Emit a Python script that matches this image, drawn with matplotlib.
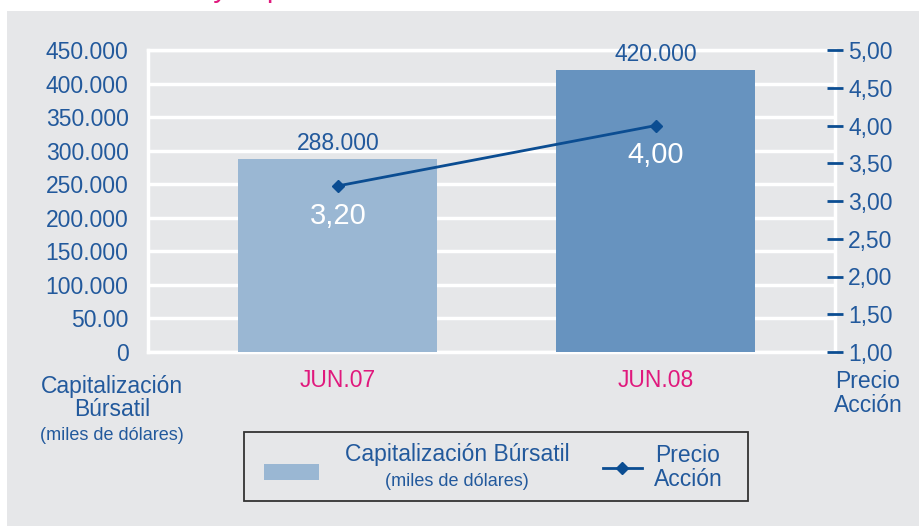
import matplotlib
matplotlib.use("Agg")
import matplotlib.pyplot as plt
from matplotlib.patches import Rectangle
from matplotlib.lines import Line2D

plt.rcParams['font.family'] = ['Liberation Sans', 'DejaVu Sans']

# data
categories = ["JUN.07", "JUN.08"]
capitalizacion = [288000, 420000]      # miles de dólares
precio_accion = [3.20, 4.00]
left_ticks = [0, 50000, 100000, 150000, 200000, 250000, 300000, 350000, 400000, 450000]
left_tick_labels = ["0", "50.00", "100.000", "150.000", "200.000", "250.000",
                    "300.000", "350.000", "400.000", "450.000"]
right_ticks = [1.0, 1.5, 2.0, 2.5, 3.0, 3.5, 4.0, 4.5, 5.0]

BG = '#e6e7e9'
BLUE_TXT = '#22599c'
LINE = '#0b4d92'
MAGENTA = '#e0197d'
BAR_COLORS = ['#9ab7d3', '#6793bf']
FS = 16.5

W, H = 919, 526


def px(x, y):
    return x / W, 1 - y / H


fig = plt.figure(figsize=(W / 100, H / 100), dpi=100, facecolor='white')
fig.patches.append(Rectangle((7 / W, 0), 1, 1 - 11 / H, transform=fig.transFigure,
                             facecolor=BG, edgecolor='none', zorder=-5))

# title, cut by the top edge of the image as in the original
fig.text(37 / W, 1 + 3 / H, "Valor bursátil y el precio de la acción", color=MAGENTA,
         fontsize=21, ha='left', va='baseline')

ax = fig.add_axes([148 / W, 1 - 352 / H, (835 - 148) / W, (352 - 50) / H])
ax.set_zorder(1)
ax.set_facecolor('none')
x = [0, 1]
ax.bar(x, capitalizacion, width=0.626, color=BAR_COLORS, zorder=2)
ax.set_xlim(-0.597, 1.563)
ax.set_ylim(0, 450000)
ax.set_yticks(left_ticks)
ax.set_yticklabels(left_tick_labels)
ax.yaxis.grid(True, color='white', lw=2.5, zorder=1)
ax.set_axisbelow(True)
ax.tick_params(axis='y', length=0, pad=14, labelsize=FS, labelcolor=BLUE_TXT)
ax.set_xticks(x)
ax.set_xticklabels(categories)
ax.tick_params(axis='x', length=0, pad=12, labelsize=FS, labelcolor=MAGENTA)
for s in ax.spines.values():
    s.set_color('white')
    s.set_linewidth(2.5)
    s.set_zorder(0.5)
ax.spines['right'].set_visible(False)

for xi, v in zip(x, capitalizacion):
    ax.annotate(f"{v:,.0f}".replace(',', '.'), (xi, v), xytext=(0, 11),
                textcoords='offset points', ha='center', va='center',
                fontsize=FS, color=BLUE_TXT)

ax2 = ax.twinx()
ax2.set_zorder(2)
ax2.set_facecolor('none')
ax2.set_ylim(1, 5)
ax2.set_yticks(right_ticks)
ax2.set_yticklabels([f"{t:.2f}".replace('.', ',') for t in right_ticks])
ax2.tick_params(axis='y', direction='inout', length=11, width=2, color=LINE,
                labelcolor=BLUE_TXT, labelsize=FS, pad=4)
for s in ax2.spines.values():
    s.set_visible(False)
ax2.spines['right'].set_visible(True)
ax2.spines['right'].set_color('white')
ax2.spines['right'].set_linewidth(2.5)
ax2.spines['right'].set_zorder(0.5)
ax2.plot(x, precio_accion, color=LINE, lw=2, marker='D', markersize=6, zorder=3)
for xi, v in zip(x, precio_accion):
    ax2.annotate(f"{v:.2f}".replace('.', ','), (xi, v), xytext=(0, -21.5),
                 textcoords='offset points', ha='center', va='center',
                 fontsize=21, color='white')

# axis titles
fig.text(*px(112, 387), "Capitalización", ha='center', va='center', fontsize=FS, color=BLUE_TXT)
fig.text(*px(112, 410), "Búrsatil", ha='center', va='center', fontsize=FS, color=BLUE_TXT)
fig.text(*px(112, 436), "(miles de dólares)", ha='center', va='center', fontsize=13, color=BLUE_TXT)
fig.text(*px(868, 381), "Precio", ha='center', va='center', fontsize=FS, color=BLUE_TXT)
fig.text(*px(868, 405), "Acción", ha='center', va='center', fontsize=FS, color=BLUE_TXT)

# legend box
bx, by = px(244, 501)
fig.patches.append(Rectangle((bx, by), (748 - 244) / W, (501 - 432) / H,
                             transform=fig.transFigure, facecolor='none',
                             edgecolor='#333333', lw=1.3, zorder=5))
lx, ly = px(264, 480)
fig.patches.append(Rectangle((lx, ly), (319 - 264) / W, 16 / H, transform=fig.transFigure,
                             facecolor=BAR_COLORS[0], edgecolor='none', zorder=5))
fig.text(*px(457, 455), "Capitalización Búrsatil", ha='center', va='center', fontsize=FS, color=BLUE_TXT)
fig.text(*px(457, 481), "(miles de dólares)", ha='center', va='center', fontsize=13, color=BLUE_TXT)
fig.lines.append(Line2D([603 / W, 642 / W], [1 - 468 / H, 1 - 468 / H], transform=fig.transFigure,
                        color=LINE, lw=2))
fig.lines.append(Line2D([622 / W], [1 - 468 / H], transform=fig.transFigure,
                        color=LINE, marker='D', markersize=6))
fig.text(*px(688, 455), "Precio", ha='center', va='center', fontsize=FS, color=BLUE_TXT)
fig.text(*px(688, 479), "Acción", ha='center', va='center', fontsize=FS, color=BLUE_TXT)

fig.savefig("out.png", dpi=100, facecolor=fig.get_facecolor())
